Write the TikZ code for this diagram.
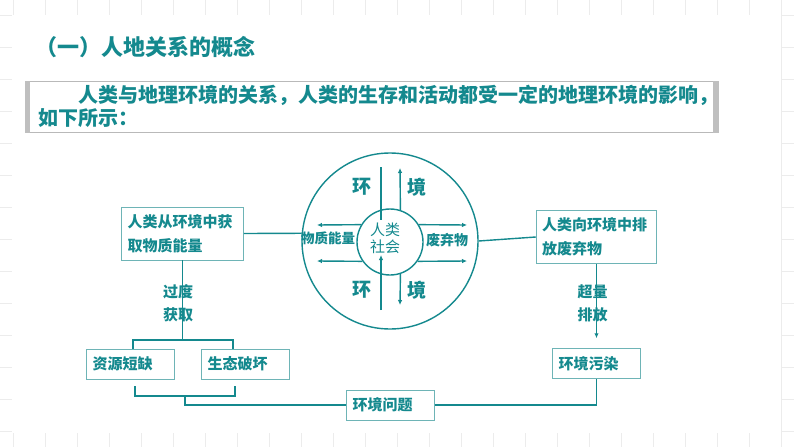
\documentclass[tikz,border=0pt]{standalone}
\usepackage{fontspec}
\newfontfamily\cjk{Noto Sans CJK SC}
\usetikzlibrary{arrows.meta}
\definecolor{tealtext}{RGB}{20,137,142}
\definecolor{tealedge}{RGB}{110,180,182}
\definecolor{gridgray}{RGB}{236,236,236}
\newcommand{\fsz}[2]{\fontsize{#1}{#2}\selectfont}

\begin{document}
\begin{tikzpicture}[
    x=1pt, y=-1pt,
    every node/.style={font=\cjk\bfseries, text=tealtext, inner sep=0pt},
    link/.style={draw=tealtext, line width=1.4pt},
    arr/.style={link, -{Latex[length=5pt,width=4.5pt]}},
    box/.style={draw=tealedge, line width=0.9pt, fill=white, inner xsep=6pt, align=left, font=\cjk\bfseries\fsz{15}{24}},
    ring/.style={draw=tealtext, line width=1.4pt, circle, minimum size=#1},
    envtag/.style={font=\cjk\bfseries\fsz{19}{19}},
    tag/.style={align=center, font=\cjk\bfseries\fsz{15}{23}},
    introbox/.style={draw=gray!55, line width=1pt, fill=white, minimum width=693pt, minimum height=51pt,
      text width=667pt, inner xsep=13pt, align=left, font=\cjk\bfseries\fsz{20}{23.5}},
  ]
  \useasboundingbox (0,0) rectangle (794,447);
  \foreach \gx in {0,...,24}
    \draw[gridgray] ({13+32*\gx},0) -- ({13+32*\gx},447);
  \foreach \gy in {0,...,13}
    \draw[gridgray] (0,{15+32*\gy}) -- (794,{15+32*\gy});
  \fill[white] (12,15) rectangle (781,433);
  \draw[gridgray, line width=1pt] (781,0) -- (781,447);

  \node[anchor=west, font=\cjk\bfseries\fsz{22}{22}] (title) at (35,47.5) {（一）人地关系的概念};
  \node[introbox] (intro) at (371.5,106.5)
    {\hspace*{40pt}人类与地理环境的关系，人类的生存和活动都受一定的地理环境的影响，\\如下所示：};
  \fill[gray!50] (intro.north west) rectangle ([xshift=5pt]intro.south west);
  \fill[gray!50] ([xshift=-6pt]intro.north east) rectangle (intro.south east);

  \node[ring=176pt] (outer) at (390,241) {};
  \node[ring=66pt] (inner) at (390,242) {};
  \node[envtag] (envtl) at (362,187) {环};
  \node[envtag] (envtr) at (417,187) {境};
  \node[envtag] (envbl) at (362,290) {环};
  \node[envtag] (envbr) at (417,290) {境};
  \node[align=center, font=\cjk\fsz{15}{17}] (society) at (385,238) {人类\\社会};
  \node[font=\cjk\bfseries\fsz{13.5}{14}] (matter) at (328,238) {物质能量};
  \node[font=\cjk\bfseries\fsz{14}{14}] (waste) at (447,240) {废弃物};

  \coordinate (tl) at (381,167);
  \coordinate (tlend) at (381,220);
  \coordinate (bl) at (381,310);
  \coordinate (blend) at (381,255);
  \coordinate (tr) at (400,168);
  \coordinate (br) at (400,305);
  \coordinate (ul) at (317,225);
  \coordinate (ll) at (317,261);
  \coordinate (ur) at (467,225);
  \coordinate (lr) at (467,261);
  \draw[link] (tl) -- (tlend);
  \draw[arr] (bl) -- (blend);
  \draw[arr] (inner.72) -- (tr);
  \draw[arr] (inner.-72) -- (br);
  \draw[arr] (inner.149) -- (ul);
  \draw[arr] (inner.215) -- (ll);
  \draw[arr] (inner.31) -- (ur);
  \draw[arr] (inner.-35) -- (lr);

  \node[box, minimum width=121.6pt, minimum height=53pt, text width=109.6pt] (leftbox) at (182.5,233.5)
    {人类从环境中获\\取物质能量};
  \node[box, minimum width=120.6pt, minimum height=52.6pt, text width=108.6pt] (rightbox) at (596.5,237)
    {人类向环境中排\\放废弃物};
  \node[box, minimum width=87.6pt, minimum height=30pt, text width=75.6pt] (shortage) at (130.5,364) {资源短缺};
  \node[box, minimum width=87.6pt, minimum height=30pt, text width=75.6pt] (damage) at (245.5,364) {生态破坏};
  \node[box, minimum width=87.6pt, minimum height=30pt, text width=75.6pt] (pollution) at (596.5,363.7) {环境污染};
  \node[box, minimum width=87.6pt, minimum height=30pt, text width=75.6pt] (problem) at (390.5,405) {环境问题};

  \draw[link] (leftbox.east) -- (outer.175);
  \draw[link] (outer.east) -- (rightbox.west);
  \coordinate (fork1) at (182.5,340);
  \draw[link] (leftbox.south) -- (fork1);
  \draw[link] ([xshift=2.5pt]shortage.north) |- (fork1) -| ([xshift=-12.5pt]damage.north);
  \coordinate (fork2) at (185,396);
  \draw[link] ([shift={(4.5pt,-7pt)}]shortage.south) |- (fork2) -| ([shift={(-10.5pt,-7pt)}]damage.south);
  \draw[link] (fork2) |- (problem.west);
  \draw[link] (problem.east) -| (pollution.south);
  \draw[arr] (rightbox.south) -- ([yshift=10pt]pollution.north);

  \node[tag] (overuse) at (178,303) {过度\\获取};
  \node[tag] (excess) at (592.5,303) {超量\\排放};
\end{tikzpicture}
\end{document}
